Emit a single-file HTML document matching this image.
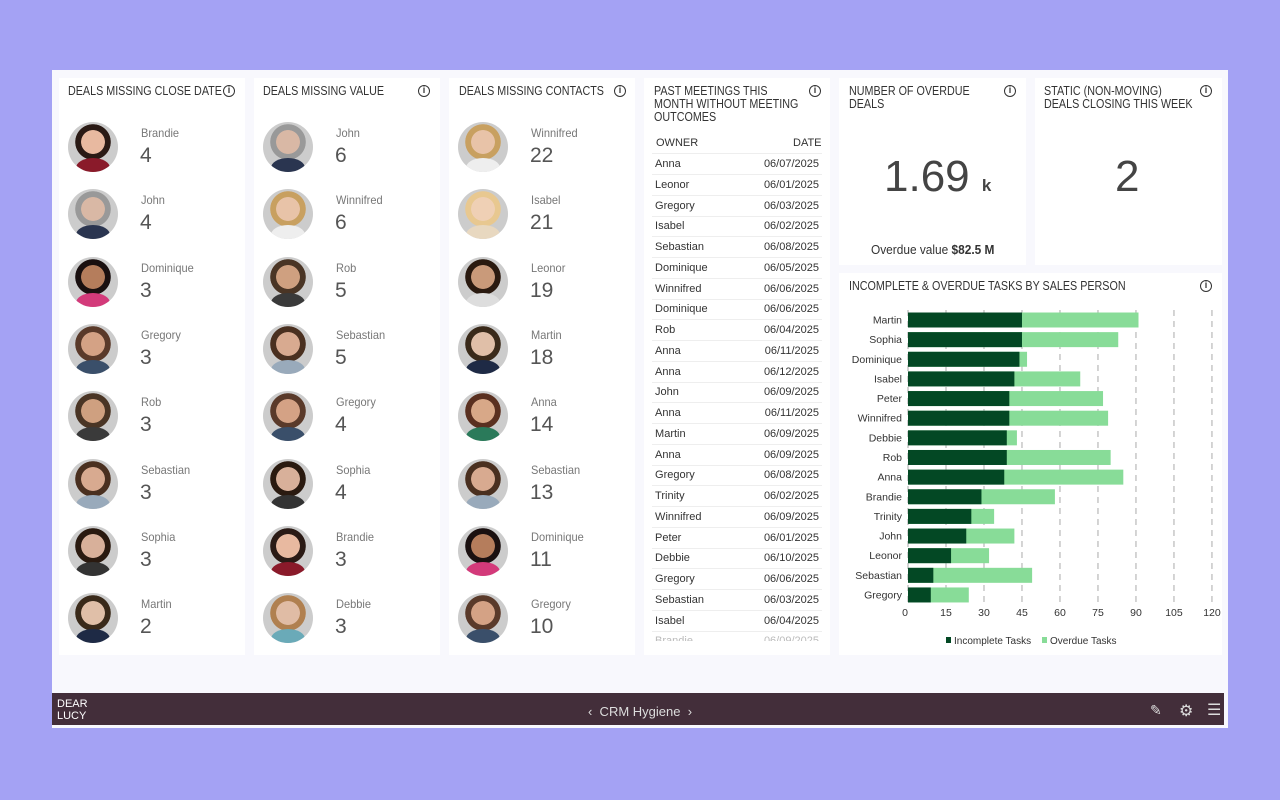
<!DOCTYPE html>
<html><head><meta charset="utf-8"><style>
*{margin:0;padding:0;box-sizing:border-box}
body{width:1280px;height:800px;background:#a4a2f4;position:relative;font-family:"Liberation Sans",sans-serif;overflow:hidden}
.frame{position:absolute;left:52px;top:70px;width:1176px;height:658px;background:#f8f8fd}
.card{position:absolute;top:78px;background:#fff;height:577px}
.t{position:absolute;font-size:12.5px;color:#333;line-height:13px;transform:scaleX(0.86);transform-origin:left top;white-space:nowrap}
.i{position:absolute;width:12px;height:12px;border:1.5px solid #333;border-radius:50%;font-size:9px;font-weight:bold;text-align:center;line-height:9px;color:#333}
.av{position:absolute;width:50px;height:50px;border-radius:50%;overflow:hidden}
.nm{position:absolute;font-size:12px;color:#777;transform:scaleX(0.92);transform-origin:left}
.nu{position:absolute;font-size:21px;color:#555}
.row{position:absolute;left:652px;width:170px;font-size:11px;color:#333;height:21px;border-bottom:1px solid #eee;line-height:20px}
.row span{position:absolute;right:3px}
</style></head><body>
<div class="frame"></div>
<div class="card" style="left:59px;width:186px"></div>
<div class="card" style="left:254px;width:186px"></div>
<div class="card" style="left:449px;width:186px"></div>
<div class="card" style="left:644px;width:186px"></div>
<div class="card" style="left:839px;width:187px;height:187px"></div>
<div class="card" style="left:1035px;width:187px;height:187px"></div>
<div class="card" style="left:839px;top:273px;width:383px;height:382px"></div>

<div class="t" style="left:68px;top:85px">DEALS MISSING CLOSE DATE</div><div class="i" style="left:223px;top:85px">i</div>
<div class="t" style="left:263px;top:85px">DEALS MISSING VALUE</div><div class="i" style="left:418px;top:85px">i</div>
<div class="t" style="left:459px;top:85px">DEALS MISSING CONTACTS</div><div class="i" style="left:614px;top:85px">i</div>
<div class="t" style="left:654px;top:85px">PAST MEETINGS THIS<br>MONTH WITHOUT MEETING<br>OUTCOMES</div><div class="i" style="left:809px;top:85px">i</div>
<div class="t" style="left:849px;top:85px">NUMBER OF OVERDUE<br>DEALS</div><div class="i" style="left:1004px;top:85px">i</div>
<div class="t" style="left:1044px;top:85px">STATIC (NON-MOVING)<br>DEALS CLOSING THIS WEEK</div><div class="i" style="left:1200px;top:85px">i</div>
<div class="t" style="left:849px;top:280px">INCOMPLETE &amp; OVERDUE TASKS BY SALES PERSON</div><div class="i" style="left:1200px;top:280px">i</div>

<div style="position:absolute;left:884px;top:152px;font-size:44px;color:#444">1.69 <span style="font-size:17px;font-weight:bold">k</span></div>
<div style="position:absolute;left:871px;top:243px;font-size:12.5px;color:#333;transform:scaleX(0.95);transform-origin:left">Overdue value <b>$82.5 M</b></div>
<div style="position:absolute;left:1115px;top:152px;font-size:44px;color:#444">2</div>

<div id="people"></div>

<div style="position:absolute;left:656px;top:137px;font-size:11px;color:#333">OWNER</div>
<div style="position:absolute;left:793px;top:137px;font-size:11px;color:#333">DATE</div>
<div id="tbl"></div>

<svg style="position:absolute;left:0;top:0" width="1280" height="800" id="ch"></svg>

<div style="position:absolute;left:52px;top:693px;width:1172px;height:32px;background:#432e3a"></div>
<div style="position:absolute;left:57px;top:698px;font-size:11px;color:#fff;line-height:12px">DEAR<br>LUCY</div>
<div style="position:absolute;left:588px;top:704px;font-size:13px;color:#ddd">‹ &nbsp;CRM Hygiene&nbsp; ›</div>
<div style="position:absolute;left:1150px;top:702px;font-size:14px;color:#ddd">✎</div>
<div style="position:absolute;left:1179px;top:701px;font-size:16px;color:#ddd">⚙</div>
<div style="position:absolute;left:1207px;top:700px;font-size:16px;color:#ddd">☰</div>

<script>
var cols=[[59,[["Brandie",4],["John",4],["Dominique",3],["Gregory",3],["Rob",3],["Sebastian",3],["Sophia",3],["Martin",2]]],
[254,[["John",6],["Winnifred",6],["Rob",5],["Sebastian",5],["Gregory",4],["Sophia",4],["Brandie",3],["Debbie",3]]],
[449,[["Winnifred",22],["Isabel",21],["Leonor",19],["Martin",18],["Anna",14],["Sebastian",13],["Dominique",11],["Gregory",10]]]];
var skin={Brandie:["#e8b9a0","#8a1a2a","#2a1a15"],John:["#d9b8a5","#2a3550","#999"],Dominique:["#b57d5c","#d33a7a","#1a1010"],Gregory:["#d4a285","#3a4f6a","#5a3a2a"],Rob:["#cfa080","#3a3a3a","#4a3525"],Sebastian:["#d8aa90","#9ab","#4a3020"],Sophia:["#d8b09a","#333","#2a1a10"],Martin:["#e0bfa8","#1e2a45","#3a2a1a"],Winnifred:["#e8c3a8","#eee","#c8a060"],Debbie:["#e0bca5","#6aaab8","#b08050"],Isabel:["#efd0b5","#e8d8c0","#e8c890"],Leonor:["#c99a7a","#ddd","#2a1a10"],Anna:["#d8a888","#2a7a5a","#5a3020"]};
var h="";
cols.forEach(function(c){c[1].forEach(function(p,k){var y=122+k*67.3,s=skin[p[0]];
h+='<div class="av" style="left:'+(c[0]+9)+'px;top:'+y+'px;background:radial-gradient(circle at 50% 40%,'+s[0]+' 0 30%,'+s[2]+' 31% 45%,#ccc 46%),#ccc"><div style="position:absolute;left:8px;top:36px;width:34px;height:20px;border-radius:50% 50% 0 0;background:'+s[1]+'"></div></div>';
h+='<div class="nm" style="left:'+(c[0]+82)+'px;top:'+(y+4)+'px">'+p[0]+'</div>';
h+='<div class="nu" style="left:'+(c[0]+81)+'px;top:'+(y+22)+'px">'+p[1]+'</div>';});});
document.getElementById("people").innerHTML=h;
var rows=[["Anna","06/07/2025"],["Leonor","06/01/2025"],["Gregory","06/03/2025"],["Isabel","06/02/2025"],["Sebastian","06/08/2025"],["Dominique","06/05/2025"],["Winnifred","06/06/2025"],["Dominique","06/06/2025"],["Rob","06/04/2025"],["Anna","06/11/2025"],["Anna","06/12/2025"],["John","06/09/2025"],["Anna","06/11/2025"],["Martin","06/09/2025"],["Anna","06/09/2025"],["Gregory","06/08/2025"],["Trinity","06/02/2025"],["Winnifred","06/09/2025"],["Peter","06/01/2025"],["Debbie","06/10/2025"],["Gregory","06/06/2025"],["Sebastian","06/03/2025"],["Isabel","06/04/2025"],["Brandie","06/09/2025"]];
h='<div class="row" style="top:133px;height:21px"></div>';
rows.forEach(function(r,k){var y=154+k*20.75;h+='<div class="row" style="top:'+y+'px;'+(k==23?'color:#bbb;height:10px;overflow:hidden;border:0':'')+'">&nbsp;'+r[0]+'<span>'+r[1]+'</span></div>';});
document.getElementById("tbl").innerHTML=h;
var d=[["Martin",45,91],["Sophia",45,83],["Dominique",44,47],["Isabel",42,68],["Peter",40,77],["Winnifred",40,79],["Debbie",39,43],["Rob",39,80],["Anna",38,85],["Brandie",29,58],["Trinity",25,34],["John",23,42],["Leonor",17,32],["Sebastian",10,49],["Gregory",9,24]];
var x0=908,k=2.533,s="";
for(var v=0;v<=120;v+=15){var x=x0+v*k;s+='<line x1="'+x+'" y1="310" x2="'+x+'" y2="605" stroke="#aaa" stroke-dasharray="6,5"/>';
s+='<text x="'+(v==0?x-3:x)+'" y="616" font-size="10.5" fill="#333" text-anchor="middle" font-family="Liberation Sans">'+v+'</text>';}
d.forEach(function(r,i){var y=320+i*19.64;
s+='<rect x="'+x0+'" y="'+(y-7.5)+'" width="'+(r[2]*k)+'" height="15" fill="#88dc98"/>';
s+='<rect x="'+x0+'" y="'+(y-7.5)+'" width="'+(r[1]*k)+'" height="15" fill="#034824"/>';
s+='<text x="902" y="'+(y+3.5)+'" font-size="10.5" fill="#333" text-anchor="end" font-family="Liberation Sans">'+r[0]+'</text>';});
s+='<rect x="946" y="637" width="5" height="6" fill="#034824"/><text x="954" y="644" font-size="10" fill="#333" font-family="Liberation Sans">Incomplete Tasks</text>';
s+='<rect x="1042" y="637" width="5" height="6" fill="#88dc98"/><text x="1050" y="644" font-size="10" fill="#333" font-family="Liberation Sans">Overdue Tasks</text>';
document.getElementById("ch").innerHTML=s;
</script>
</body></html>
